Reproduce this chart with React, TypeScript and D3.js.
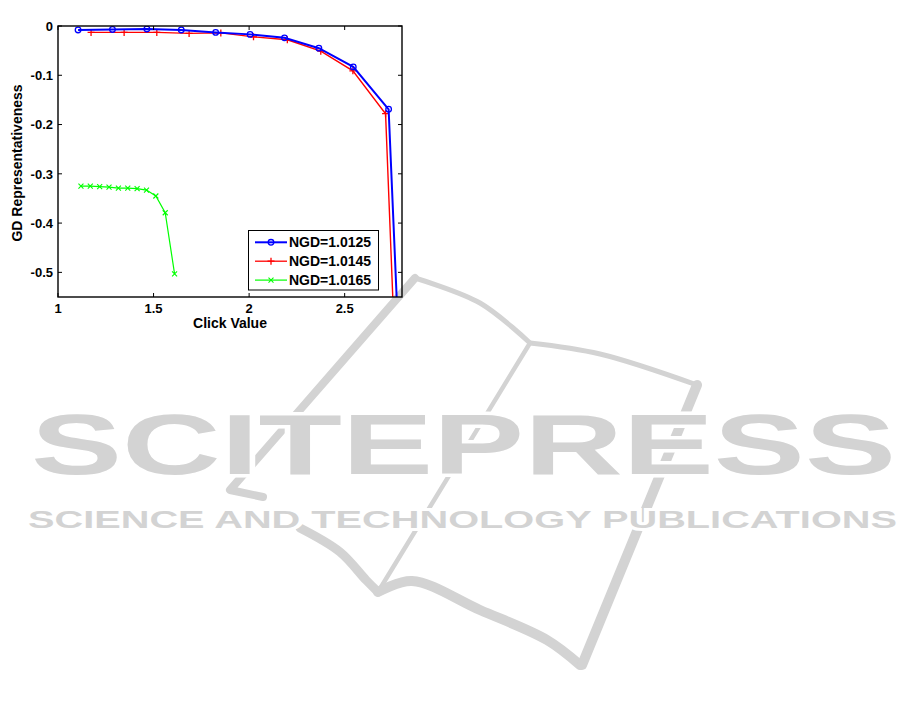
import React from "react";
import * as d3 from "d3";

const blueX = [1.105, 1.285, 1.465, 1.645, 1.825, 2.005, 2.185, 2.365, 2.545, 2.73, 2.794];
const blueY = [-0.008, -0.007, -0.006, -0.008, -0.013, -0.017, -0.024, -0.045, -0.083, -0.169, -0.75];
const redX = [1.173, 1.346, 1.517, 1.686, 1.852, 2.023, 2.2, 2.375, 2.543, 2.714, 2.772];
const redY = [-0.013, -0.013, -0.013, -0.015, -0.014, -0.022, -0.028, -0.051, -0.091, -0.178, -0.75];
const greenX = [1.12, 1.169, 1.218, 1.267, 1.316, 1.365, 1.414, 1.463, 1.512, 1.561, 1.61];
const greenY = [-0.325, -0.325, -0.326, -0.327, -0.329, -0.329, -0.33, -0.333, -0.345, -0.379, -0.503];
const seriesNames = ["NGD=1.0125", "NGD=1.0145", "NGD=1.0165"];
const xTicks = [1, 1.5, 2, 2.5];
const yTicks = [0, -0.1, -0.2, -0.3, -0.4, -0.5];
const yTickLabels = ["0", "-0.1", "-0.2", "-0.3", "-0.4", "-0.5"];
const xTickLabels = ["1", "1.5", "2", "2.5"];

const W = 915, H = 705;
const L = 58, R = 402, T = 26, B = 297;
const FONT = "'Liberation Sans', Arial, Helvetica, sans-serif";
const WM = "#d3d3d3";

export default function App() {
  const x = d3.scaleLinear().domain([1, 2.8]).range([L, R]);
  const y = d3.scaleLinear().domain([0, -0.55]).range([T, B]);
  const line = d3.line<[number, number]>().x(d => x(d[0])).y(d => y(d[1]));
  const zip = (a: number[], b: number[]) => a.map((v, i) => [v, b[i]] as [number, number]);
  const blue = zip(blueX, blueY);
  const red = zip(redX, redY);
  const green = zip(greenX, greenY);
  const curve = d3.line<[number, number]>().curve(d3.curveCatmullRom);

  const legendItems = [
    { name: seriesNames[0], color: "#0000ff", width: 2, marker: "o" },
    { name: seriesNames[1], color: "#ff0000", width: 1.3, marker: "+" },
    { name: seriesNames[2], color: "#00ff00", width: 1.2, marker: "x" },
  ];
  const marker = (m: string, cx: number, cy: number, color: string, key: any) => {
    if (m === "o") return <circle key={key} cx={cx} cy={cy} r={2.8} fill="none" stroke={color} strokeWidth={1.3} />;
    if (m === "+") return <path key={key} d={`M${cx - 3.5},${cy}H${cx + 3.5}M${cx},${cy - 3.5}V${cy + 3.5}`} stroke={color} strokeWidth={1.3} />;
    return <path key={key} d={`M${cx - 2.5},${cy - 2.5}L${cx + 2.5},${cy + 2.5}M${cx - 2.5},${cy + 2.5}L${cx + 2.5},${cy - 2.5}`} stroke={color} strokeWidth={1.1} />;
  };

  return (
    <svg width={W} height={H} style={{ position: "absolute", left: 0, top: 0, background: "#fff" }}>
      {/* watermark */}
      <g fill="none" stroke={WM} strokeLinecap="round" strokeLinejoin="round">
        <path d={`M415,278L230,490L263,497`} strokeWidth={8} />
        <path d={curve([[415, 278], [480, 303], [530, 343]]) || ""} strokeWidth={5} />
        <path d={curve([[530, 343], [600, 354], [697, 385]]) || ""} strokeWidth={5} />
        <path d={`M530,343L378,592`} strokeWidth={4.5} />
        <path d={curve([[300, 528], [340, 552], [366, 580], [378, 592]]) || ""} strokeWidth={9} />
        <path d={curve([[378, 592], [412, 581], [480, 610], [547, 640], [580, 665]]) || ""} strokeWidth={10} />
        <path d={`M697,385L582,665`} strokeWidth={10} />
      </g>
      <text x={31} y={474} fontFamily={FONT} fontWeight="bold" fontSize={85} fill={WM}
        stroke="#fff" strokeWidth={7} paintOrder="stroke"
        textLength={865} lengthAdjust="spacingAndGlyphs">SCITEPRESS</text>
      <text x={28} y={528} fontFamily={FONT} fontWeight="bold" fontSize={23} fill={WM}
        stroke="#fff" strokeWidth={6} paintOrder="stroke"
        textLength={869} lengthAdjust="spacingAndGlyphs">SCIENCE AND TECHNOLOGY PUBLICATIONS</text>

      <defs>
        <clipPath id="plot"><rect x={L} y={T} width={R - L} height={B - T} /></clipPath>
      </defs>

      {/* series */}
      <g clipPath="url(#plot)">
        <path d={line(green) || ""} fill="none" stroke="#00ff00" strokeWidth={1.2} />
        {green.map((d, i) => marker("x", x(d[0]), y(d[1]), "#00ff00", "g" + i))}
        <path d={line(red) || ""} fill="none" stroke="#ff0000" strokeWidth={1.4} />
        {red.map((d, i) => marker("+", x(d[0]), y(d[1]), "#ff0000", "r" + i))}
        <path d={line(blue) || ""} fill="none" stroke="#0000ff" strokeWidth={2} />
        {blue.map((d, i) => marker("o", x(d[0]), y(d[1]), "#0000ff", "b" + i))}
      </g>

      {/* axes box */}
      <rect x={L} y={T} width={R - L} height={B - T} fill="none" stroke="#000" strokeWidth={1.4} />
      {xTicks.map((t, i) => (
        <g key={"xt" + i}>
          <line x1={x(t)} x2={x(t)} y1={B} y2={B - 4} stroke="#000" />
          <line x1={x(t)} x2={x(t)} y1={T} y2={T + 4} stroke="#000" />
          <text x={x(t)} y={312.5} textAnchor="middle" fontFamily={FONT} fontWeight="bold" fontSize={13}>{xTickLabels[i]}</text>
        </g>
      ))}
      {yTicks.map((t, i) => (
        <g key={"yt" + i}>
          <line x1={L} x2={L + 4} y1={y(t)} y2={y(t)} stroke="#000" />
          <line x1={R} x2={R - 4} y1={y(t)} y2={y(t)} stroke="#000" />
          <text x={53} y={y(t) + 4.7} textAnchor="end" fontFamily={FONT} fontWeight="bold" fontSize={13}>{yTickLabels[i]}</text>
        </g>
      ))}
      <text x={(L + R) / 2} y={328} textAnchor="middle" fontFamily={FONT} fontWeight="bold" fontSize={14}>Click Value</text>
      <text transform={`translate(22,163) rotate(-90)`} textAnchor="middle" fontFamily={FONT} fontWeight="bold" fontSize={14}>GD Representativeness</text>

      {/* legend */}
      <rect x={248.5} y={230.5} width={130} height={59.5} fill="#fff" stroke="#000" strokeWidth={1} />
      {legendItems.map((it, i) => {
        const ly = 242.3 + i * 18.9;
        return (
          <g key={"lg" + i}>
            <line x1={255} x2={287} y1={ly} y2={ly} stroke={it.color} strokeWidth={it.width} />
            {marker(it.marker, 271, ly, it.color, "lm" + i)}
            <text x={289} y={ly + 5} fontFamily={FONT} fontWeight="bold" fontSize={14}>{it.name}</text>
          </g>
        );
      })}
    </svg>
  );
}
